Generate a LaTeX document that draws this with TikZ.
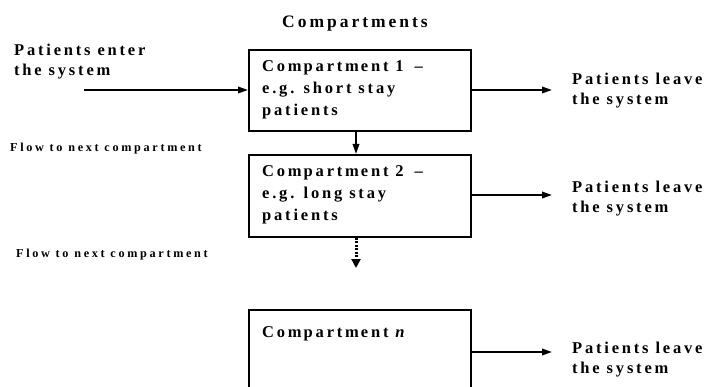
\documentclass[tikz,border=0pt]{standalone}
\usepackage{fontspec}
\setmainfont{Liberation Serif}
\newfontfamily\spacedfont[LetterSpace=17]{Liberation Serif}
\newfontfamily\widefont[LetterSpace=22]{Liberation Serif}
\usetikzlibrary{arrows.meta}
\usetikzlibrary{positioning}
\newcommand{\compword}{Com\kern2pt partm\kern2pt ent}

\tikzset{
  comptext/.style={anchor=north west, align=left, inner sep=0pt,
    font=\spacedfont\bfseries\fontsize{16.5}{22}\selectfont},
  sidetext/.style={comptext, font=\spacedfont\bfseries\fontsize{16.5}{20}\selectfont},
  flowtext/.style={anchor=base west, inner sep=0pt,
    font=\widefont\bfseries\fontsize{12.2}{14}\selectfont},
  compbox/.style={draw, line width=1.8pt, minimum width=222pt, anchor=north west},
  flowarrow/.style={-{Triangle[length=10pt,width=6.5pt]}, line width=1.8pt},
}

\begin{document}
\begin{tikzpicture}[x=1pt,y=-1pt]
\useasboundingbox (0,0) rectangle (711,387);
\clip (0,0) rectangle (711,387);
% title
\node[comptext, font=\spacedfont\bfseries\fontsize{17.5}{22}\selectfont] (title) at (282,16){Compartments};
% the compartments
\node[compbox, minimum height=81pt] (c1) at (248,49){};
\node[compbox, minimum height=82pt] (c2) at (248,154){};
\node[compbox, minimum height=110pt] (cn) at (248,309){};
\node[comptext] (c1txt) at (262,60.5){\compword{} 1 \kern4pt–\\e.g. short stay\\patients};
\node[comptext] (c2txt) at (262,165.5){\compword{} 2 \kern4pt–\\e.g. long stay\\patients};
\node[comptext] (cntxt) at (262,326.5){\compword{} \textit{n}};
% in and out
\node[sidetext] (enter) at (14,43.5){Patients enter\\the system};
\node[sidetext] (leave1) at (572,72.5){Patients leave\\the system};
\node[sidetext] (leave2) at (572,180.5){Patients leave\\the system};
\node[sidetext] (leaven) at (572,341.5){Patients leave\\the system};
\coordinate (start) at (84,90);
\coordinate (gap) at (356,268);
\draw[flowarrow] (start) -- (c1.west |- start);
\draw[flowarrow, shorten >=20pt] (c1.east |- start) -- (leave1.west |- start);
\draw[flowarrow, shorten >=20pt] (c2.east |- 0,195) -- (leave2.west |- 0,195);
\draw[flowarrow, shorten >=20pt] (cn.east |- 0,352) -- (leaven.west |- 0,352);
% between the boxes
\draw[flowarrow] (c1.south -| gap) -- (c2.north -| gap);
\draw[flowarrow, line width=3pt, dash pattern=on 2pt off 1.5pt,
  -{Triangle[length=9pt,width=9pt]}] (c2.south -| gap) -- (gap);
\node[flowtext] (flow1) at (10,152){Flow to next compartment};
\node[flowtext] (flow2) at (16,257){Flow to next compartment};
\end{tikzpicture}
\end{document}
